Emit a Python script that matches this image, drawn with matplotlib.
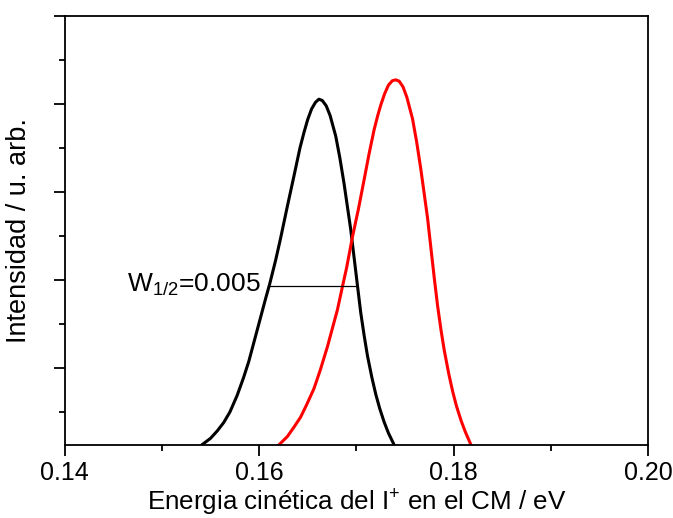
import matplotlib
matplotlib.use("Agg")
import matplotlib.pyplot as plt
from matplotlib.ticker import MultipleLocator

plt.rcParams["font.family"] = ["Liberation Sans", "DejaVu Sans"]
plt.rcParams["mathtext.fontset"] = "custom"
plt.rcParams["mathtext.rm"] = "Liberation Sans"
plt.rcParams["mathtext.it"] = "Liberation Sans"
plt.rcParams["mathtext.default"] = "regular"

# Distribuciones de energía cinética (u. arb.)
energia_negro = [0.1541, 0.1550, 0.1557, 0.15636, 0.1570, 0.15774, 0.1584,
                 0.15894, 0.15997, 0.16066, 0.16110, 0.1617, 0.16221, 0.1629,
                 0.16358, 0.1642, 0.16461, 0.1650, 0.1654, 0.1658, 0.16615,
                 0.1665, 0.1669, 0.1673, 0.16788, 0.1683, 0.16873, 0.16942,
                 0.17011, 0.17045, 0.1708, 0.17114, 0.1716, 0.17200, 0.1724,
                 0.17286, 0.1733, 0.17389]
intens_negro = [0.025, 0.040, 0.057, 0.076, 0.100, 0.1375, 0.178,
                0.215, 0.300, 0.357, 0.392, 0.445, 0.495, 0.567,
                0.636, 0.700, 0.735, 0.765, 0.789, 0.804, 0.811,
                0.808, 0.796, 0.774, 0.727, 0.678, 0.620, 0.515,
                0.388, 0.326, 0.274, 0.228, 0.178, 0.140, 0.108,
                0.077, 0.052, 0.025]

energia_rojo = [0.16203, 0.1629, 0.1636, 0.16426, 0.1649, 0.16564, 0.1663,
                0.16702, 0.16805, 0.16857, 0.1690, 0.1696, 0.1702, 0.17079,
                0.1713, 0.17182, 0.1722, 0.1725, 0.1729, 0.1733, 0.1737,
                0.17405, 0.1744, 0.1748, 0.1752, 0.17578, 0.1762, 0.17663,
                0.17732, 0.17801, 0.17835, 0.1787, 0.17904, 0.1795, 0.1799,
                0.1803, 0.18076, 0.1812, 0.18179]
intens_rojo = [0.025, 0.044, 0.066, 0.088, 0.117, 0.153, 0.196,
               0.248, 0.332, 0.385, 0.428, 0.498, 0.560, 0.627,
               0.686, 0.741, 0.774, 0.797, 0.823, 0.843, 0.853,
               0.855, 0.852, 0.839, 0.815, 0.766, 0.714, 0.652,
               0.541, 0.405, 0.342, 0.287, 0.240, 0.187, 0.147,
               0.113, 0.081, 0.055, 0.025]

# anchura a media altura
fwhm_x = [0.1611, 0.1699]
fwhm_y = [0.386, 0.386]

fig = plt.figure(figsize=(6.73, 5.18), dpi=100)
ax = fig.add_axes([0.096, 0.141, 0.867, 0.828])

ax.plot(energia_negro, intens_negro, color="black", lw=2.2)
ax.plot(energia_rojo, intens_rojo, color="red", lw=2.2)
ax.plot(fwhm_x, fwhm_y, color="black", lw=0.9)
ax.text(0.1602, 0.373, "W$_{1/2}$=0.005", fontsize=19, ha="right", va="baseline")

ax.set_xlim(0.14, 0.20)
ax.set_ylim(0.025, 1.0)
ax.xaxis.set_major_locator(MultipleLocator(0.02))
ax.xaxis.set_minor_locator(MultipleLocator(0.01))
ax.yaxis.set_major_locator(MultipleLocator(0.2))
ax.yaxis.set_minor_locator(MultipleLocator(0.1))
ax.set_xticks([0.14, 0.16, 0.18, 0.20], ["0.14", "0.16", "0.18", "0.20"])
ax.set_yticklabels([])
ax.tick_params(which="both", direction="out", width=1.3, labelsize=18)
ax.tick_params(which="major", length=8)
ax.tick_params(which="minor", length=4)
for s in ax.spines.values():
    s.set_linewidth(1.3)

ax.set_xlabel("Energia cinética del I$^{+}$ en el CM / eV", fontsize=18.7, labelpad=2)
ax.set_ylabel("Intensidad / u. arb.", fontsize=19.5, labelpad=12)

fig.savefig("out.png", dpi=100)
